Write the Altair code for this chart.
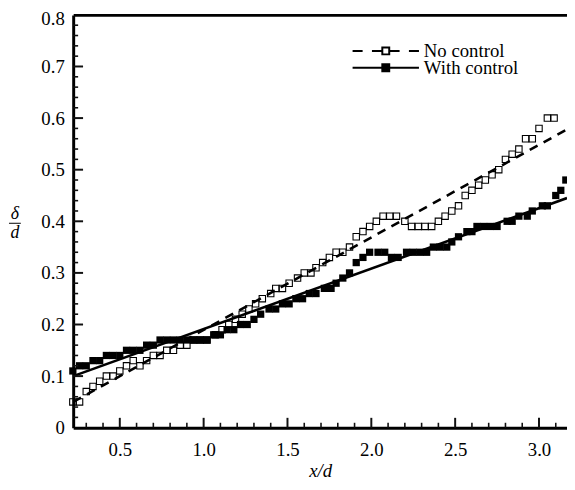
import altair as alt
import pandas as pd

# ---- data ----
nc_x = [0.22, 0.26, 0.30, 0.34, 0.38, 0.42, 0.46, 0.50, 0.54, 0.58, 0.62, 0.66, 0.70, 0.74,
        0.78, 0.82, 0.86, 0.90, 0.94, 0.98, 1.02, 1.07, 1.11, 1.15, 1.19, 1.23, 1.27, 1.31,
        1.35, 1.40, 1.43, 1.47, 1.51, 1.56, 1.60, 1.64, 1.67, 1.71, 1.75, 1.79, 1.83, 1.87,
        1.91, 1.95, 1.99, 2.03, 2.07, 2.11, 2.15, 2.20, 2.24, 2.28, 2.32, 2.36, 2.40, 2.44,
        2.48, 2.52, 2.56, 2.60, 2.64, 2.68, 2.72, 2.76, 2.80, 2.84, 2.88, 2.92, 2.96, 3.00,
        3.05, 3.09]
nc_y = [0.05, 0.05, 0.07, 0.08, 0.09, 0.10, 0.10, 0.11, 0.12, 0.13, 0.12, 0.13, 0.14, 0.14,
        0.15, 0.15, 0.16, 0.16, 0.17, 0.17, 0.17, 0.18, 0.19, 0.20, 0.21, 0.22, 0.23, 0.24,
        0.25, 0.26, 0.27, 0.27, 0.28, 0.29, 0.30, 0.30, 0.31, 0.32, 0.33, 0.34, 0.34, 0.35,
        0.37, 0.38, 0.39, 0.40, 0.41, 0.41, 0.41, 0.40, 0.39, 0.39, 0.39, 0.39, 0.40, 0.41,
        0.42, 0.43, 0.45, 0.46, 0.47, 0.48, 0.49, 0.50, 0.52, 0.53, 0.54, 0.56, 0.56, 0.58,
        0.60, 0.60]

wc_x = [0.22, 0.26, 0.30, 0.34, 0.38, 0.42, 0.46, 0.50, 0.54, 0.58, 0.62, 0.66, 0.70, 0.74,
        0.78, 0.82, 0.86, 0.90, 0.94, 0.98, 1.02, 1.06, 1.10, 1.14, 1.18, 1.22, 1.26, 1.30,
        1.34, 1.39, 1.43, 1.47, 1.51, 1.55, 1.59, 1.63, 1.67, 1.72, 1.76, 1.79, 1.83, 1.87,
        1.91, 1.95, 1.99, 2.04, 2.08, 2.12, 2.16, 2.21, 2.25, 2.29, 2.33, 2.37, 2.41, 2.45,
        2.48, 2.52, 2.57, 2.60, 2.63, 2.67, 2.71, 2.75, 2.81, 2.84, 2.88, 2.93, 2.96, 3.02,
        3.05, 3.10, 3.13, 3.16]
wc_y = [0.11, 0.12, 0.12, 0.13, 0.13, 0.14, 0.14, 0.14, 0.15, 0.15, 0.15, 0.16, 0.16, 0.17,
        0.17, 0.17, 0.17, 0.17, 0.17, 0.17, 0.17, 0.18, 0.18, 0.19, 0.19, 0.20, 0.20, 0.21,
        0.22, 0.23, 0.23, 0.24, 0.24, 0.25, 0.25, 0.26, 0.26, 0.27, 0.27, 0.28, 0.29, 0.30,
        0.32, 0.33, 0.34, 0.34, 0.34, 0.33, 0.33, 0.34, 0.34, 0.34, 0.34, 0.35, 0.35, 0.35,
        0.36, 0.37, 0.38, 0.38, 0.39, 0.39, 0.39, 0.39, 0.40, 0.40, 0.41, 0.41, 0.42, 0.43,
        0.43, 0.45, 0.46, 0.48]

fit_nc_x = [0.222, 3.167]
fit_nc_y = [0.050, 0.578]
fit_wc_x = [0.222, 3.167]
fit_wc_y = [0.100, 0.445]

series_names = ["No control", "With control"]
x_major = [0.5, 1.0, 1.5, 2.0, 2.5, 3.0]
y_major = [0.0, 0.1, 0.2, 0.3, 0.4, 0.5, 0.6, 0.7, 0.8]

# ---- layout ----
W, H = 500, 418
FONT = "Liberation Serif"
FS = 19
XDOM = [0.222, 3.167]
YDOM = [0.0, 0.8]

x_minor = [round(0.1 * i, 1) for i in range(3, 32) if i % 5]
y_minor = [round(0.02 * i, 2) for i in range(1, 40) if i % 5]

# tick lengths expressed in axis units (10 px major, 5 px minor)
XT_MAJ = 10 * (YDOM[1] - YDOM[0]) / H
XT_MIN = 5 * (YDOM[1] - YDOM[0]) / H
YT_MAJ = 10 * (XDOM[1] - XDOM[0]) / W
YT_MIN = 5 * (XDOM[1] - XDOM[0]) / W

nc_df = pd.DataFrame({"x": nc_x, "y": nc_y})
wc_df = pd.DataFrame({"x": wc_x, "y": wc_y})
fnc_df = pd.DataFrame({"x": fit_nc_x, "y": fit_nc_y})
fwc_df = pd.DataFrame({"x": fit_wc_x, "y": fit_wc_y})


def xs():
    return alt.Scale(domain=XDOM, nice=False, zero=False)


def ys():
    return alt.Scale(domain=YDOM, nice=False, zero=False)


# dashed fit line
dashed = alt.Chart(fnc_df).mark_line(color="black", strokeWidth=2.6, strokeDash=[9, 7]).encode(
    x=alt.X("x:Q", scale=xs(), axis=None),
    y=alt.Y("y:Q", scale=ys(), axis=None),
)

# solid fit line: carries the top border
solid = alt.Chart(fwc_df).mark_line(color="black", strokeWidth=2.6).encode(
    x=alt.X("x:Q", scale=xs(), axis=alt.Axis(orient="top", labels=False, ticks=False,
                                             domain=True, domainColor="black", domainWidth=3,
                                             grid=False, title=None)),
    y=alt.Y("y:Q", scale=ys(), axis=None),
)

# open squares: main labelled axes
open_pts = alt.Chart(nc_df).mark_point(shape="square", filled=False, color="black",
                                       size=42, strokeWidth=1.1, opacity=1).encode(
    x=alt.X("x:Q", scale=xs(), axis=alt.Axis(
        orient="bottom", values=x_major, format=".1f", ticks=False, tickSize=0,
        domain=True, domainColor="black", domainWidth=3, grid=False,
        labelFont=FONT, labelFontSize=FS, labelColor="black", labelPadding=13,
        title="x/d", titleFont=FONT, titleFontSize=FS, titleFontStyle="italic",
        titleFontWeight="normal", titleColor="black", titlePadding=2)),
    y=alt.Y("y:Q", scale=ys(), axis=alt.Axis(
        orient="left", values=y_major,
        labelExpr="datum.value == 0 ? '0' : format(datum.value, '.1f')",
        labelOffset={"condition": {"test": "datum.value > 0.75", "value": 4}, "value": 0},
        ticks=False, tickSize=0, domain=True, domainColor="black", domainWidth=3,
        grid=False, labelFont=FONT, labelFontSize=FS, labelColor="black",
        labelPadding=9, title=None)),
)

# filled squares
filled_pts = alt.Chart(wc_df).mark_point(shape="square", filled=True, color="black",
                                         size=54, strokeWidth=0, opacity=1).encode(
    x=alt.X("x:Q", scale=xs(), axis=None),
    y=alt.Y("y:Q", scale=ys(), axis=None),
)


# inward tick marks (x ticks and y ticks together), placed through the same scales
def tick_table(xvals, yvals, xlen, ylen):
    rows = []
    for v in xvals:
        rows.append({"x1": v, "x2": v, "y1": YDOM[0], "y2": YDOM[0] + xlen})
    for v in yvals:
        rows.append({"x1": XDOM[0], "x2": XDOM[0] + ylen, "y1": v, "y2": v})
    return pd.DataFrame(rows)


maj_df = tick_table(x_major, y_major[1:-1], XT_MAJ, YT_MAJ)
min_df = tick_table(x_minor, y_minor, XT_MIN, YT_MIN)


def tick_layer(df, sw):
    return alt.Chart(df).mark_rule(color="#111111", strokeWidth=sw, opacity=1).encode(
        x=alt.X("x1:Q", scale=xs(), axis=None), x2="x2:Q",
        y=alt.Y("y1:Q", scale=ys(), axis=None), y2="y2:Q")


maj_ticks = tick_layer(maj_df, 2)
min_ticks = tick_layer(min_df, 1.6)

# legend layers (no marks drawn, only the legends)
dash_path = "M-9.6,0H-6.7M-4,0H-1M-1,-1H1V1H-1ZM1,0H4M6.7,0H9.6"
solid_path = "M-9.6,0H-1M-1,-1H1V1H-1ZM1,0H9.6"


def legend_layer(name, path, fillc, ly):
    leg = alt.Legend(orient="none", legendX=307, legendY=ly, title=None, padding=0,
                     symbolSize=49, symbolStrokeWidth=2,
                     labelOffset=29, labelFont=FONT, labelFontSize=FS, labelColor="black")
    return alt.Chart(alt.InlineData(values=[])).mark_point(
        filled=True, strokeWidth=2, size=49, opacity=1).encode(
        shape=alt.Shape("series:N", scale=alt.Scale(domain=[name], range=[path]), legend=leg),
        fill=alt.Fill("series:N", scale=alt.Scale(domain=[name], range=[fillc]), legend=leg),
        stroke=alt.Stroke("series:N", scale=alt.Scale(domain=[name], range=["black"]),
                          legend=leg),
    )


leg_nc = legend_layer(series_names[0], dash_path, "white", 27)
leg_wc = legend_layer(series_names[1], solid_path, "black", 44)

# y axis title as a fraction
one = pd.DataFrame({"k": [0]})
delta_txt = alt.Chart(one).mark_text(text="δ", font=FONT, fontSize=18, fontStyle="italic",
                                     color="black", baseline="middle", align="center").encode(
    x=alt.value(-59), y=alt.value(202))
d_txt = alt.Chart(one).mark_text(text="d", font=FONT, fontSize=18, fontStyle="italic",
                                 color="black", baseline="middle", align="center").encode(
    x=alt.value(-59), y=alt.value(221))
frac = alt.Chart(one).mark_rule(color="black", strokeWidth=1).encode(
    x=alt.value(-65), x2=alt.value(-53), y=alt.value(211))

chart = alt.layer(dashed, solid, open_pts, filled_pts, maj_ticks, min_ticks,
                  leg_nc, leg_wc, delta_txt, d_txt, frac).resolve_axis(
    x="independent", y="independent"
).resolve_scale(
    shape="independent", fill="independent", stroke="independent"
).resolve_legend(
    shape="independent", fill="independent", stroke="independent"
).properties(
    width=W, height=H,
    padding={"left": 66, "top": 4, "right": 0, "bottom": 52},
    autosize=alt.AutoSizeParams(type="none"),
    background="white",
).configure_view(stroke=None)

chart.save("out.html", embed_options={"renderer": "svg", "actions": False})
